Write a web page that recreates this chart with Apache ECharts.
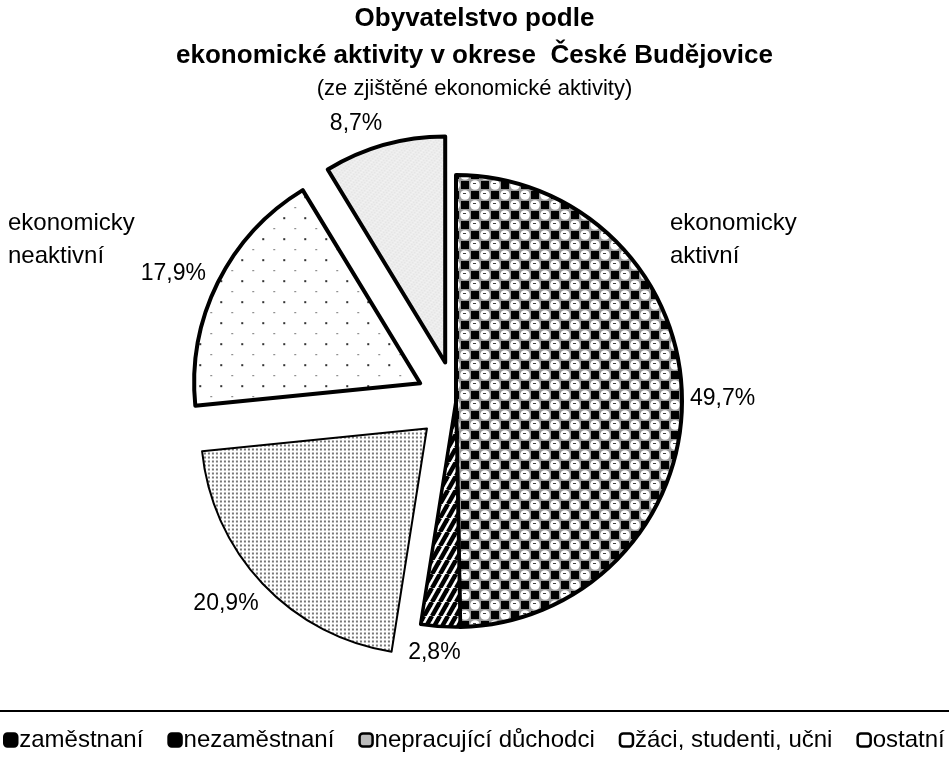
<!DOCTYPE html>
<html>
<head>
<meta charset="utf-8">
<script src="https://cdn.jsdelivr.net/npm/echarts@6/dist/echarts.min.js"></script>
<style>
  html, body { margin: 0; padding: 0; background: #fff; }
  #chart { width: 949px; height: 769px; }
</style>
</head>
<body>
<div id="chart"></div>
<script>
// data
var categories = ['zaměstnaní', 'nezaměstnaní', 'nepracující důchodci', 'žáci, studenti, učni', 'ostatní'];
var values = [49.7, 2.8, 20.9, 17.9, 8.7];
var exploded = [false, false, true, true, true];

// patterns
function tile(w, h, draw) {
  var c = document.createElement('canvas');
  c.width = w; c.height = h;
  draw(c.getContext('2d'), w, h);
  return { image: c, repeat: 'repeat' };
}
var checker = tile(20, 20, function (g) {
  g.fillStyle = '#9a9a9a'; g.fillRect(0, 0, 20, 20);
  g.fillStyle = '#000';
  g.fillRect(1, 1, 8, 8);
  g.fillRect(11, 11, 8, 8);
  g.fillStyle = '#fff';
  g.beginPath(); g.arc(15, 5, 4.8, 0, Math.PI * 2); g.fill();
  g.beginPath(); g.arc(5, 15, 4.8, 0, Math.PI * 2); g.fill();
  g.fillStyle = '#444';
  g.fillRect(13, 3, 3, 1); g.fillRect(3, 13, 3, 1);
});
var stripes = tile(8, 14, function (g, w, h) {
  g.fillStyle = '#fff'; g.fillRect(0, 0, w, h);
  g.strokeStyle = '#000'; g.lineWidth = 4.5;
  for (var k = -1; k <= 1; k++) {
    g.beginPath(); g.moveTo(k * w, h); g.lineTo(k * w + w, 0); g.stroke();
  }
});
var fineDots = tile(4, 4, function (g) {
  g.fillStyle = '#fff'; g.fillRect(0, 0, 4, 4);
  g.fillStyle = '#777'; g.fillRect(1, 1, 2, 2);
});
var sparseDots = tile(21, 21, function (g) {
  g.fillStyle = '#fff'; g.fillRect(0, 0, 21, 21);
  g.fillStyle = '#333'; g.fillRect(4, 4, 2, 2);
  g.fillStyle = '#777'; g.fillRect(15, 15, 2, 1);
});
var speckle = tile(32, 32, function (g) {
  g.fillStyle = '#ededed'; g.fillRect(0, 0, 32, 32);
  for (var y = 0; y < 32; y++) {
    for (var x = 0; x < 32; x++) {
      var n = ((x * 73856093) ^ (y * 19349663)) & 7;
      if (n === 0) { g.fillStyle = '#dadada'; g.fillRect(x, y, 1, 1); }
      else if (n === 1) { g.fillStyle = '#f8f8f8'; g.fillRect(x, y, 1, 1); }
    }
  }
});
var fills = [checker, stripes, fineDots, sparseDots, speckle];
var borders = [4, 3.5, 2, 4, 4];
// label placement (length, length2) so the labels sit where the original put them
var lineLen = [[3, 0], [26, -27], [29, -22], [20, -11], [22, -9]];

var myChart = echarts.init(document.getElementById('chart'));
myChart.setOption({
  animation: false,
  title: {
    text: 'Obyvatelstvo podle\nekonomické aktivity v okrese  České Budějovice',
    subtext: '(ze zjištěné ekonomické aktivity)',
    left: 'center',
    top: -5,
    itemGap: 3,
    textStyle: {
      fontFamily: 'Liberation Sans', fontSize: 26, fontWeight: 'bold',
      color: '#000', lineHeight: 37
    },
    subtextStyle: {
      fontFamily: 'Liberation Sans', fontSize: 22, color: '#000', lineHeight: 24
    }
  },
  legend: {
    bottom: 17,
    left: 3,
    width: 946,
    padding: 0,
    itemWidth: 13,
    itemHeight: 13,
    itemGap: 24,
    icon: 'roundRect',
    textStyle: { fontFamily: 'Liberation Sans', fontSize: 24, color: '#000', padding: [0, 0, 0, -3] },
    data: categories.map(function (c, i) {
      return {
        name: c,
        itemStyle: { color: i < 2 ? '#000' : (i === 2 ? '#bbb' : '#fff'), borderColor: '#000', borderWidth: 2.5 }
      };
    })
  },
  graphic: [
    { type: 'line', shape: { x1: 0, y1: 711, x2: 949, y2: 711 }, style: { stroke: '#000', lineWidth: 2 } },
    { type: 'text', left: 670, top: 207, style: { text: 'ekonomicky\naktivní', font: '24px "Liberation Sans"', fill: '#000', lineHeight: 33 } },
    { type: 'text', left: 8, top: 207, style: { text: 'ekonomicky\nneaktivní', font: '24px "Liberation Sans"', fill: '#000', lineHeight: 33 } }
  ],
  series: [{
    type: 'pie',
    center: [456, 401],
    radius: 226,
    startAngle: 90,
    clockwise: true,
    selectedMode: 'multiple',
    selectedOffset: 40,
    emphasis: { disabled: true },
    label: {
      show: true,
      position: 'outside',
      fontFamily: 'Liberation Sans',
      fontSize: 23,
      color: '#000',
      formatter: function (p) { return p.value.toFixed(1).replace('.', ',') + '%'; }
    },
    labelLine: { show: false },
    data: categories.map(function (c, i) {
      return {
        name: c,
        value: values[i],
        selected: exploded[i],
        labelLine: { show: false, length: lineLen[i][0], length2: lineLen[i][1] },
        itemStyle: { color: fills[i], borderColor: '#000', borderWidth: borders[i] }
      };
    })
  }]
});
</script>
</body>
</html>
